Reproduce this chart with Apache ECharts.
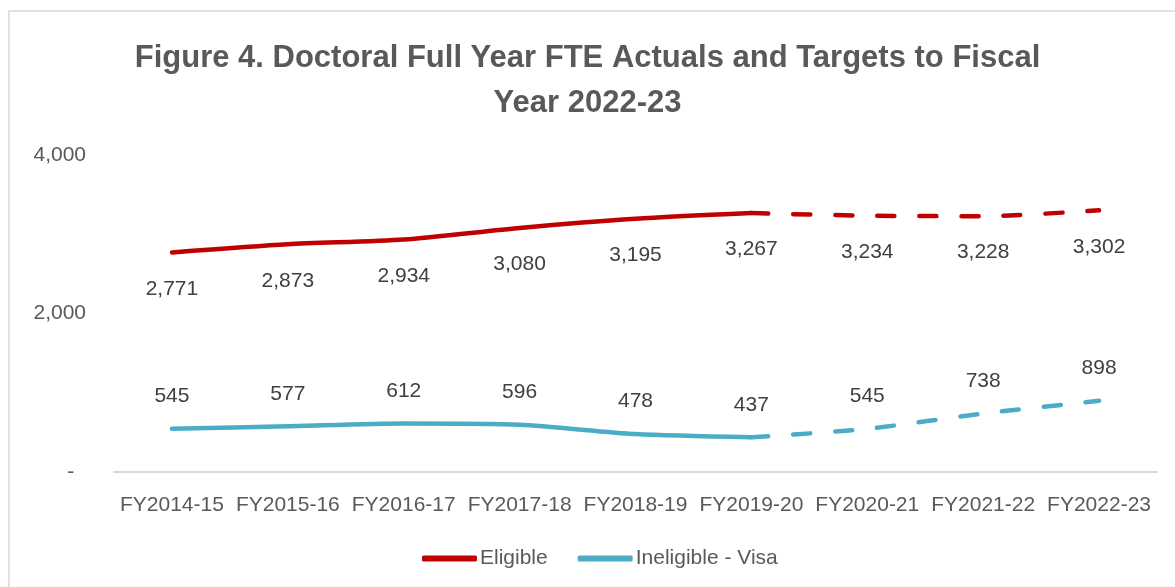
<!DOCTYPE html>
<html>
<head>
<meta charset="utf-8">
<script src="https://cdn.jsdelivr.net/npm/echarts@6/dist/echarts.min.js"></script>
<style>
  html, body { margin: 0; padding: 0; background: #fff; }
  #chart { width: 1175px; height: 587px; }
</style>
</head>
<body>
<div id="chart"></div>
<script>
// 数据
const years = ['FY2014-15', 'FY2015-16', 'FY2016-17', 'FY2017-18', 'FY2018-19',
  'FY2019-20', 'FY2020-21', 'FY2021-22', 'FY2022-23']
const eligible = [2771, 2873, 2934, 3080, 3195, 3267, 3234, 3228, 3302]
const visa = [545, 577, 612, 596, 478, 437, 545, 738, 898]
const lastActual = 5 // FY2019-20 之后为目标值（虚线）

const RED = '#C00000'
const TEAL = '#4BACC6'
const bodyFont = "'Liberation Sans', Arial, sans-serif"

// 实线部分：实际值
const actualPart = (arr) => arr.map((v, i) => (i <= lastActual ? v : '-'))
// 虚线部分：目标值，接点处不重复标签
const targetPart = (arr) => arr.map((v, i) => {
  if (i < lastActual) return '-'
  if (i === lastActual) return { value: v, label: { show: false } }
  return v
})

const makeSeries = (name, data, color, pos, dist, dashed) => ({
  name,
  type: 'line',
  data,
  smooth: 0.25,
  symbol: 'circle',
  symbolSize: 2,
  itemStyle: { color, opacity: 0 }, // 隐藏数据点，只保留标签
  lineStyle: {
    color,
    width: 4.5,
    cap: 'round',
    opacity: 1,
    type: dashed ? [17, 25] : 'solid'
  },
  label: {
    show: true,
    position: pos,
    distance: dist,
    color: '#404040',
    opacity: 1,
    fontSize: 21,
    fontFamily: bodyFont,
    formatter: (p) => p.value.toLocaleString('en-US')
  },
  emphasis: { disabled: true }
})

const chart = echarts.init(document.getElementById('chart'))
chart.setOption({
  animation: false,
  backgroundColor: '#fff',
  graphic: [{
    type: 'rect',
    shape: { x: 9, y: 11, width: 1200, height: 620 },
    style: { fill: 'none', stroke: '#d9d9d9', lineWidth: 1.5 },
    silent: true
  }],
  title: {
    text: 'Figure 4. Doctoral Full Year FTE Actuals and Targets to Fiscal\nYear 2022-23',
    left: 'center',
    top: 31,
    textStyle: {
      fontFamily: bodyFont,
      fontSize: 31,
      fontWeight: 'bold',
      color: '#595959',
      lineHeight: 45
    }
  },
  legend: {
    data: [
      { name: 'Eligible', itemStyle: { color: RED, opacity: 1 } },
      { name: 'Ineligible - Visa', itemStyle: { color: TEAL, opacity: 1 } }
    ],
    left: 417,
    top: 543,
    icon: 'roundRect',
    itemWidth: 55,
    itemHeight: 6,
    itemGap: 30,
    textStyle: { fontSize: 21, color: '#595959', fontFamily: bodyFont, padding: [0, 0, 0, -2] }
  },
  grid: { left: 114, right: 18, top: 155, bottom: 115 },
  xAxis: {
    type: 'category',
    data: years,
    boundaryGap: true,
    axisLine: { lineStyle: { color: '#d9d9d9', width: 2 } },
    axisTick: { show: false },
    axisLabel: { color: '#595959', fontSize: 21, fontFamily: bodyFont, margin: 23, interval: 0 }
  },
  yAxis: {
    type: 'value',
    min: 0,
    max: 4000,
    interval: 2000,
    axisLine: { show: false },
    axisTick: { show: false },
    splitLine: { show: false },
    axisLabel: {
      color: '#595959',
      fontSize: 21,
      fontFamily: bodyFont,
      margin: 28,
      formatter: (v) => (v === 0 ? '-  ' : v.toLocaleString('en-US'))
    }
  },
  series: [
    makeSeries('Eligible', actualPart(eligible), RED, 'bottom', 25, false),
    makeSeries('Eligible', targetPart(eligible), RED, 'bottom', 25, true),
    makeSeries('Ineligible - Visa', actualPart(visa), TEAL, 'top', 21, false),
    makeSeries('Ineligible - Visa', targetPart(visa), TEAL, 'top', 21, true)
  ]
})
</script>
</body>
</html>
